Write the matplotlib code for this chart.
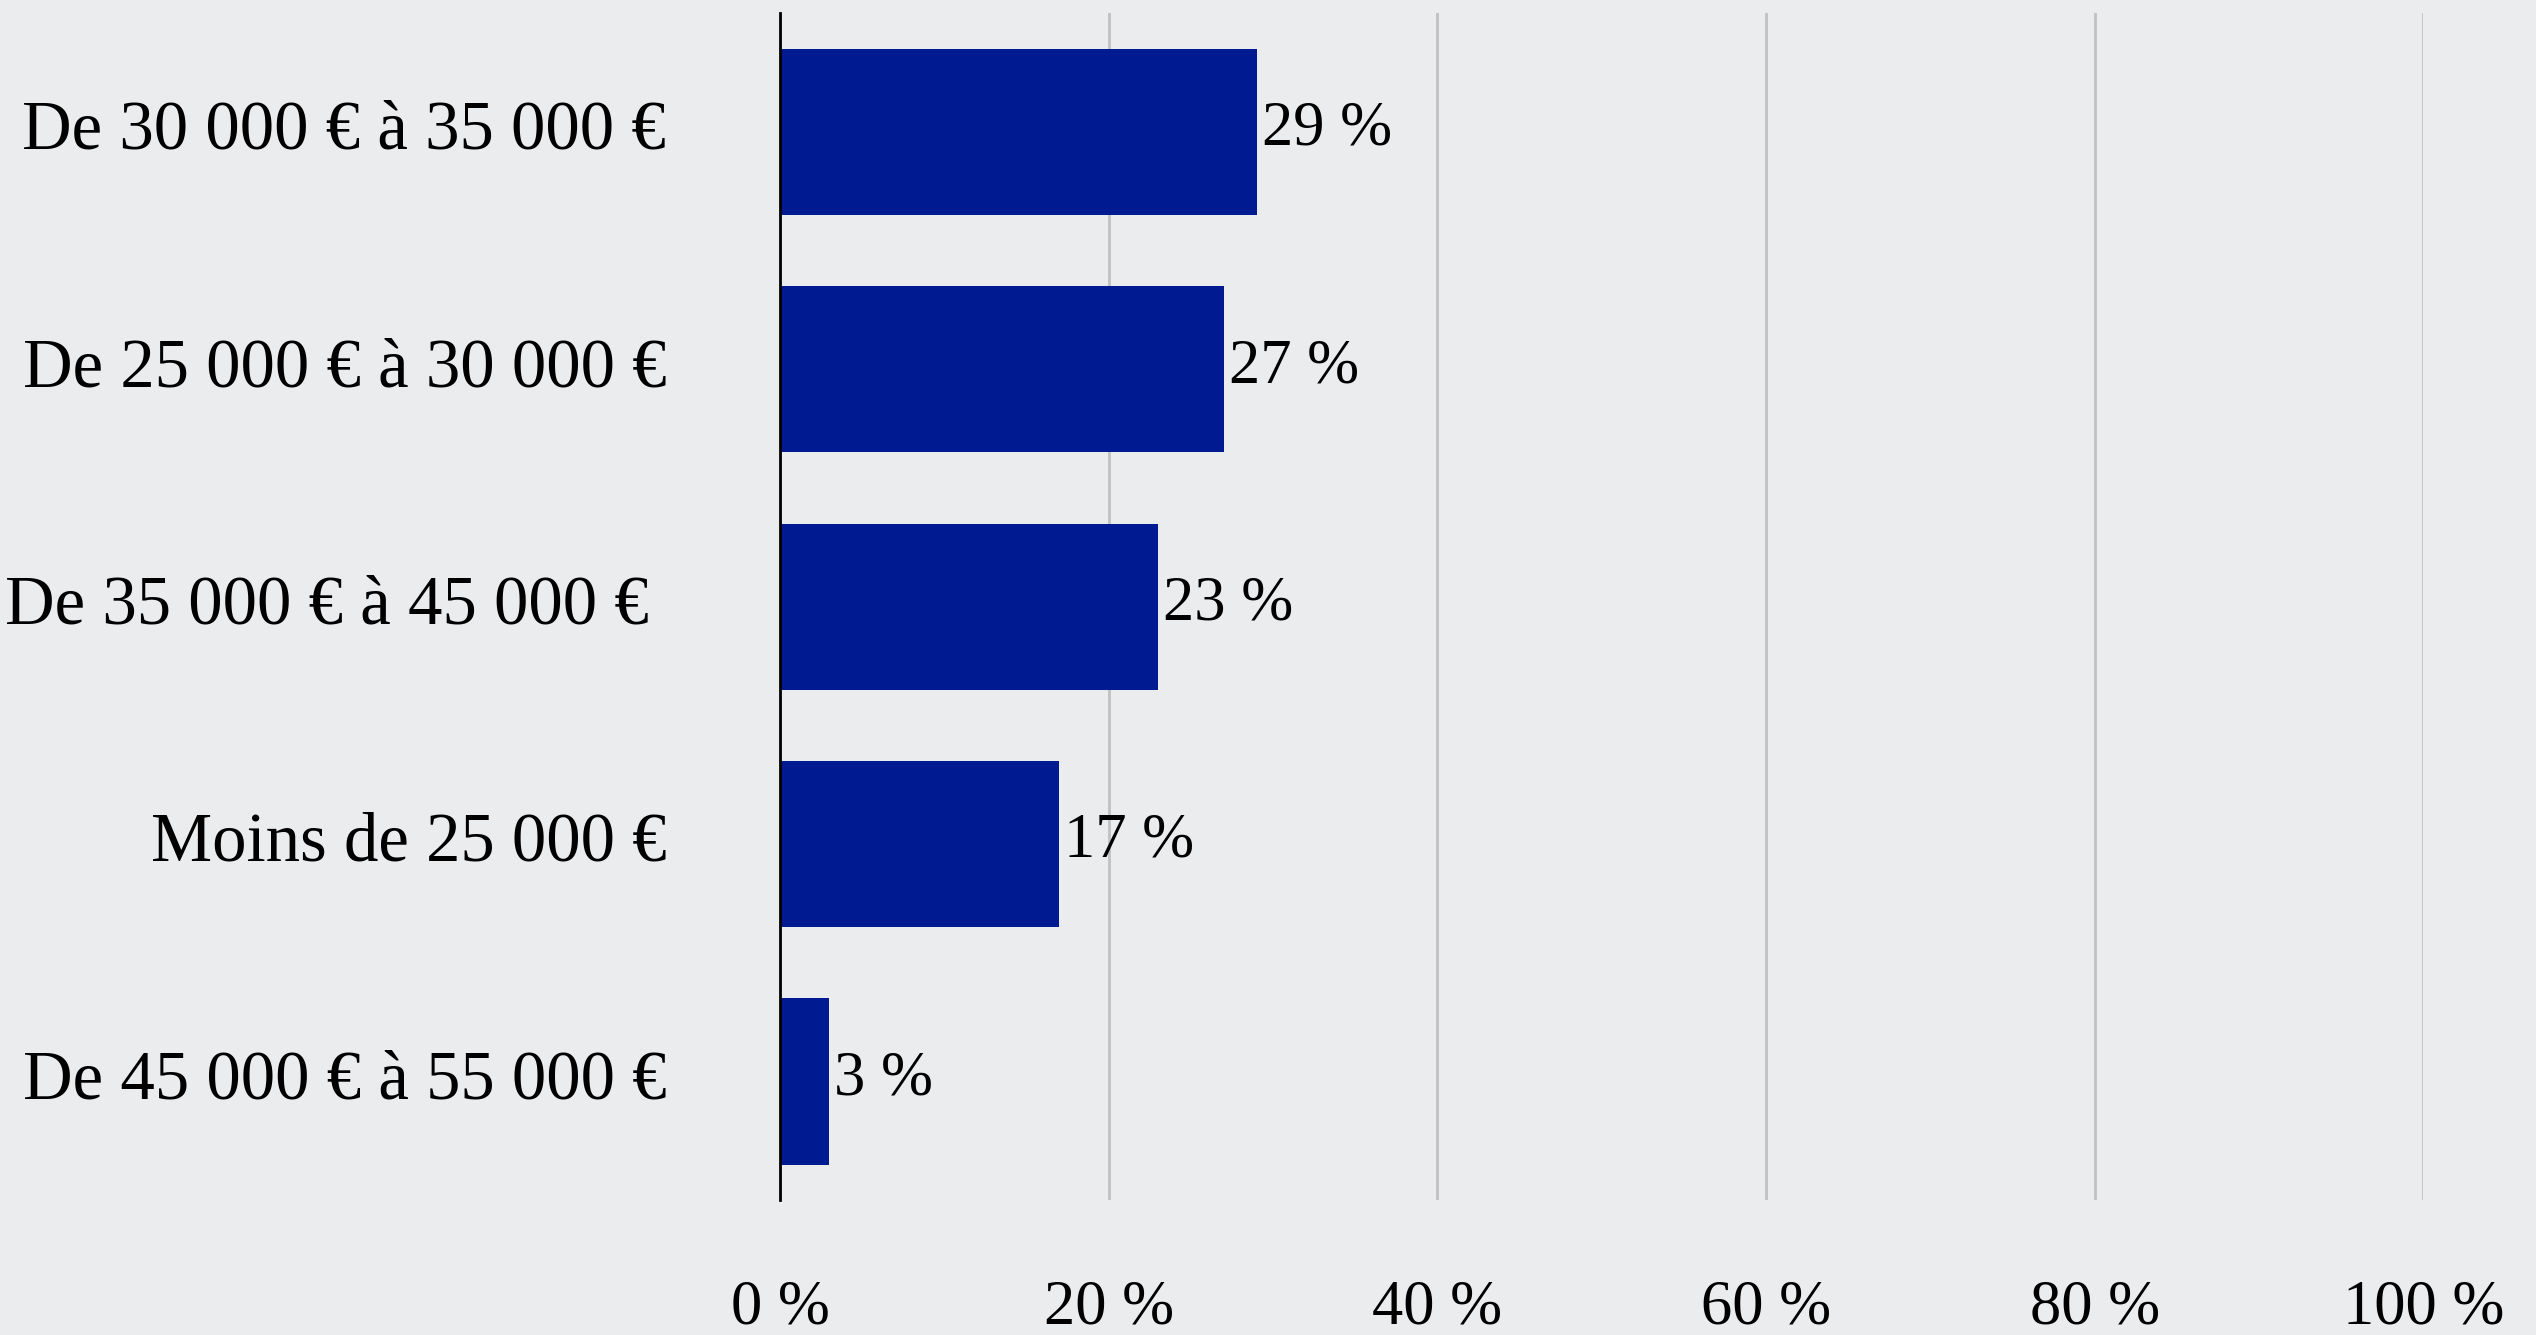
import matplotlib.pyplot as plt
import numpy as np

# data
categories = ['De 30 000 € à 35 000 €', 'De 25 000 € à 30 000 €',
              'De 35 000 € à 45 000 € ', 'Moins de 25 000 €',
              'De 45 000 € à 55 000 €']
values = [29, 27, 23, 17, 3]
ticks = [0, 20, 40, 60, 80, 100]
tick_labels = ['0 %', '20 %', '40 %', '60 %', '80 %', '100 %']

bg = '#EBECEE'
bar_color = '#001A91'
plt.rcParams['font.family'] = ['Liberation Serif', 'DejaVu Serif']

fig = plt.figure(figsize=(25.36, 13.35), dpi=100, facecolor=bg)
ax = fig.add_axes([0.3076, 0.101, 0.648, 0.889], facecolor=bg)

y = np.arange(len(categories))
ax.barh(y, values, height=0.7, color=bar_color, zorder=3)
# value labels just right of each bar
for yi, v in zip(y, values):
    ax.text(v + 0.3, yi - 0.01, f'{v} %', va='center', ha='left', fontsize=45, color='black')

ax.set_xlim(0, 100)
ax.set_ylim(len(categories) - 0.5, -0.5)
ax.set_yticks(y)
ax.set_yticklabels(categories, fontsize=49.5, va='center')
ax.set_xticks(ticks)
ax.set_xticklabels(tick_labels, fontsize=45)
ax.tick_params(axis='y', length=0, pad=82)
ax.tick_params(axis='x', length=0, pad=57)

ax.grid(axis='x', color='#C0C1C3', linewidth=2, zorder=0)
for s in ['top', 'right', 'bottom']:
    ax.spines[s].set_visible(False)
ax.spines['left'].set_color('black')
ax.spines['left'].set_linewidth(2)
ax.spines['left'].set_zorder(4)

fig.savefig('out.png', dpi=100, facecolor=bg)
